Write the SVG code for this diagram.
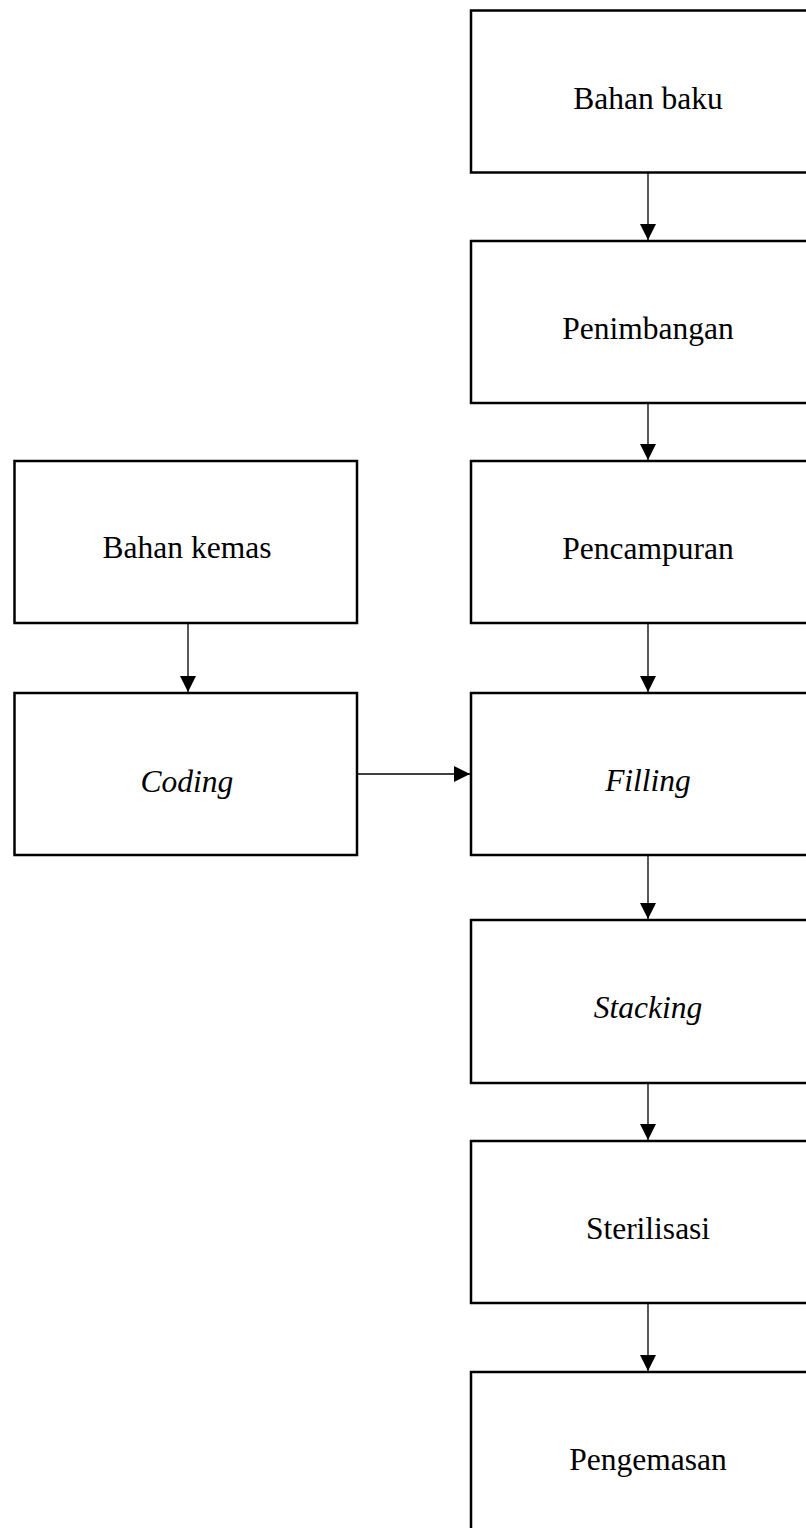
<svg xmlns="http://www.w3.org/2000/svg" width="806" height="1528" viewBox="0 0 806 1528">
<style>
.box{fill:#fff;stroke:#000;stroke-width:2.5}
.lbl{font-family:"Liberation Serif","Times New Roman",serif;font-size:31.5px;fill:#000;text-anchor:middle}
.it{font-style:italic}
.con{stroke:#000;stroke-width:1.3;fill:none}
</style>
<defs>
<marker id="ah" markerUnits="userSpaceOnUse" markerWidth="16" markerHeight="16" viewBox="0 0 16 16" refX="16" refY="8" orient="auto">
<path d="M0,0 L16,8 L0,16 Z" fill="#000"/>
</marker>
</defs>
<rect width="806" height="1528" fill="#fff"/>
<g id="n1"><rect class="box" x="471" y="10.5" width="354" height="162"/><text class="lbl" x="648" y="109">Bahan baku</text></g>
<g id="n2"><rect class="box" x="471" y="241" width="354" height="162"/><text class="lbl" x="648" y="339">Penimbangan</text></g>
<g id="n3"><rect class="box" x="471" y="461" width="354" height="162"/><text class="lbl" x="648" y="559">Pencampuran</text></g>
<g id="n4"><rect class="box" x="471" y="693" width="354" height="162"/><text class="lbl it" x="648" y="791">Filling</text></g>
<g id="n5"><rect class="box" x="471" y="920" width="354" height="163"/><text class="lbl it" x="648" y="1018">Stacking</text></g>
<g id="n6"><rect class="box" x="471" y="1141" width="354" height="162"/><text class="lbl" x="648" y="1239">Sterilisasi</text></g>
<g id="n7"><rect class="box" x="471" y="1372" width="354" height="170"/><text class="lbl" x="648" y="1470">Pengemasan</text></g>
<g id="n8"><rect class="box" x="14.5" y="461" width="342.5" height="162"/><text class="lbl" x="187" y="558">Bahan kemas</text></g>
<g id="n9"><rect class="box" x="14.5" y="693" width="342.5" height="162"/><text class="lbl it" x="187" y="792">Coding</text></g>
<g id="connectors">
<line class="con" x1="648" y1="172.5" x2="648" y2="240" marker-end="url(#ah)"/>
<line class="con" x1="648" y1="403" x2="648" y2="460" marker-end="url(#ah)"/>
<line class="con" x1="648" y1="623" x2="648" y2="692" marker-end="url(#ah)"/>
<line class="con" x1="648" y1="855" x2="648" y2="919" marker-end="url(#ah)"/>
<line class="con" x1="648" y1="1083" x2="648" y2="1140" marker-end="url(#ah)"/>
<line class="con" x1="648" y1="1303" x2="648" y2="1371" marker-end="url(#ah)"/>
<line class="con" x1="188" y1="623" x2="188" y2="692" marker-end="url(#ah)"/>
<line class="con" x1="357" y1="774" x2="470" y2="774" marker-end="url(#ah)"/>
</g>
</svg>
